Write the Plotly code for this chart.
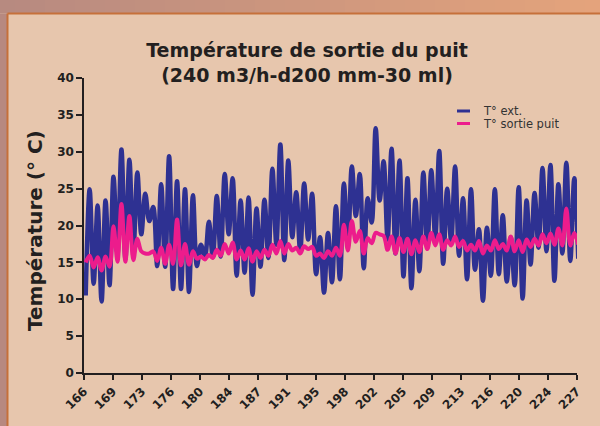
import numpy as np
import plotly.graph_objects as go

# ---------------- data ----------------
day_tick_labels = ["166", "169", "173", "176", "180", "184", "187", "191", "195",
                   "198", "202", "205", "209", "213", "216", "220", "224", "227"]

# T° ext. : daily maxima (62 cycles) and minima (minimum before each maximum)
ext_peaks = [24.9, 22.7, 23.4, 26.6, 30.3, 28.9, 27.2, 24.3, 22.5, 25.6,
             29.4, 26.0, 24.9, 24.1, 17.4, 20.5, 24.0, 27.0, 26.4, 23.4,
             23.8, 22.3, 23.5, 27.7, 31.0, 28.8, 24.5, 25.7, 24.3, 18.4,
             19.0, 22.6, 25.7, 28.0, 27.0, 23.7, 33.2, 28.7, 30.4, 28.8,
             26.4, 23.5, 27.2, 27.5, 30.1, 25.0, 28.0, 23.7, 24.9, 19.5,
             19.7, 24.9, 21.4, 18.4, 25.2, 23.4, 24.4, 27.8, 28.2, 25.6,
             28.5, 26.4]
ext_troughs = [10.5, 12.1, 9.7, 11.9, 16.1, 15.5, 16.3, 18.8, 20.6, 14.5,
               14.4, 11.4, 11.4, 11.0, 14.5, 15.7, 15.7, 15.8, 18.8, 13.2,
               13.6, 10.6, 14.4, 15.6, 17.4, 15.3, 18.4, 16.5, 18.1, 13.4,
               10.9, 12.3, 12.7, 17.2, 21.3, 14.2, 20.4, 23.4, 18.1, 16.2,
               13.1, 11.5, 13.8, 17.0, 18.3, 14.8, 17.9, 15.9, 12.7, 14.0,
               9.8, 13.2, 13.4, 12.4, 11.9, 10.1, 14.7, 17.0, 16.5, 12.5,
               16.2, 15.2]
ext_last = 15.5

# T° sortie puit
puit_peaks = [15.9, 15.7, 15.8, 19.9, 22.9, 21.3, 18.2, 16.2, 16.5, 17.0,
              17.4, 20.8, 17.5, 16.5, 15.8, 16.0, 16.7, 17.5, 17.7, 16.6,
              16.9, 16.5, 16.7, 17.4, 17.9, 17.5, 17.0, 17.2, 17.1, 16.2,
              16.5, 17.0, 20.1, 20.6, 19.3, 18.3, 19.0, 18.6, 18.5, 18.3,
              18.2, 18.0, 18.5, 19.0, 18.8, 18.0, 18.5, 17.9, 17.4, 17.9,
              17.3, 18.0, 17.5, 18.5, 18.0, 18.1, 18.2, 18.8, 18.9, 19.6,
              22.3, 19.0]
puit_troughs = [15.0, 14.3, 13.9, 14.4, 15.1, 15.1, 15.3, 16.5, 16.2, 15.2,
                14.8, 14.8, 14.6, 14.7, 15.5, 15.4, 15.6, 15.9, 16.2, 15.4,
                15.4, 15.1, 15.6, 15.9, 16.2, 16.2, 16.6, 16.2, 16.8, 15.9,
                15.6, 15.9, 15.9, 16.6, 17.8, 16.2, 17.6, 18.8, 16.7, 16.2,
                16.4, 16.1, 16.4, 16.8, 17.3, 16.7, 17.3, 17.1, 16.6, 16.6,
                16.2, 16.6, 16.8, 16.6, 16.5, 16.4, 17.1, 17.3, 17.6, 17.4,
                17.3, 17.3]
puit_last = 17.4

first_sample_day = 166.21
half_cycle_days = 0.4915

series_names = ["T° ext.", "T° sortie puit"]
series_colors = ["#2e3192", "#ec1c8c"]


def interleave(troughs, peaks, last):
    out = []
    for t, p in zip(troughs, peaks):
        out += [t, p]
    out.append(last)
    return out


ext_series = interleave(ext_troughs, ext_peaks, ext_last)
puit_series = interleave(puit_troughs, puit_peaks, puit_last)
days = first_sample_day + half_cycle_days * np.arange(len(ext_series))

# ---------------- geometry helpers (pixel -> paper) ----------------
W, H = 600, 426
L, R, T, B = 84, 23, 78, 53
PW, PH = W - L - R, H - T - B


def px(x):
    return (x - L) / PW


def py(y):
    return (H - B - y) / PH


INK = "#231f20"
BOLD = dict(family="DejaVu Sans", color=INK, weight="bold")

fig = go.Figure()
fig.add_trace(go.Scatter(x=days, y=ext_series, mode="lines", name=series_names[0],
                         line=dict(color=series_colors[0], width=4.5, shape="spline", smoothing=1),
                         showlegend=False))
fig.add_trace(go.Scatter(x=days, y=puit_series, mode="lines", name=series_names[1],
                         line=dict(color=series_colors[1], width=4, shape="spline", smoothing=1),
                         showlegend=False))

shapes = []
# outer gradient frame (top band)
c0, c1 = np.array([183, 138, 129]), np.array([229, 164, 124])
n = 40
for i in range(n):
    c = c0 + (c1 - c0) * (i + 0.5) / n
    shapes.append(dict(type="rect", xref="paper", yref="paper", layer="below",
                       x0=px(i * W / n), x1=px((i + 1) * W / n + 1), y0=py(13.5), y1=py(-1),
                       fillcolor="rgb(%d,%d,%d)" % tuple(c.astype(int)), line=dict(width=0)))
shapes.append(dict(type="rect", xref="paper", yref="paper", layer="below",
                   x0=px(-1), x1=px(7.5), y0=py(H + 1), y1=py(13.5),
                   fillcolor="rgb(183,137,128)", line=dict(width=0)))
shapes.append(dict(type="line", xref="paper", yref="paper", layer="below",
                   x0=px(7.5), x1=px(W + 1), y0=py(13.5), y1=py(13.5),
                   line=dict(color="#c6703a", width=2)))
shapes.append(dict(type="line", xref="paper", yref="paper", layer="below",
                   x0=px(7.5), x1=px(7.5), y0=py(13.5), y1=py(H + 1),
                   line=dict(color="#c6703a", width=2)))

# legend samples
legend_rows = [111.0, 123.5]
annotations = []
for name, col, yy in zip(series_names, series_colors, legend_rows):
    shapes.append(dict(type="line", xref="paper", yref="paper",
                       x0=px(457), x1=px(470), y0=py(yy), y1=py(yy),
                       line=dict(color=col, width=3)))
    annotations.append(dict(text=name, xref="paper", yref="paper", x=px(481), y=py(yy),
                            xanchor="left", yanchor="middle", showarrow=False, height=12,
                            font=dict(family="DejaVu Sans", size=11.5, color="#333333")))

# y-axis title
annotations.append(dict(text="Température (° C)", xref="paper", yref="paper",
                        x=px(35), y=py(231), xanchor="center", yanchor="middle",
                        textangle=-90, showarrow=False, font=dict(size=20, **BOLD)))

fig.update_layout(
    width=W, height=H, autosize=False,
    margin=dict(l=L, r=R, t=T, b=B, autoexpand=False),
    paper_bgcolor="#e7c6ad", plot_bgcolor="rgba(0,0,0,0)",
    title=dict(text="Température de sortie du puit<br>(240 m3/h-d200 mm-30 ml)",
               x=307 / W, xanchor="center", xref="container",
               y=1 - 57 / H, yanchor="top", yref="container",
               font=dict(size=19, **BOLD)),
    shapes=shapes, annotations=annotations,
    xaxis=dict(range=[166, 227], tickmode="array", automargin=False,
               tickvals=np.linspace(166, 227, len(day_tick_labels)), ticktext=day_tick_labels,
               tickangle=-45, ticks="outside", ticklen=5, tickwidth=1.5, tickcolor=INK,
               showline=True, linecolor=INK, linewidth=1.5, showgrid=False, zeroline=False,
               tickfont=dict(size=12, **BOLD)),
    yaxis=dict(range=[0, 40], tickmode="linear", tick0=0, dtick=5, automargin=False,
               ticks="outside", ticklen=6, tickwidth=1.5, tickcolor=INK,
               showline=True, linecolor=INK, linewidth=1.5, showgrid=False, zeroline=False,
               tickfont=dict(size=12, **BOLD)),
)

fig.write_html("out.html", config={"displayModeBar": False},
               post_script="document.body.style.margin='0';")
